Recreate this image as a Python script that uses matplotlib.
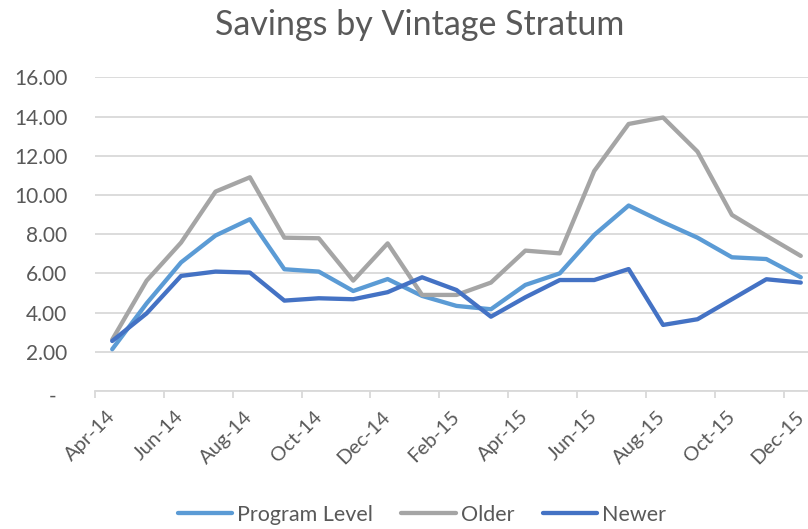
import matplotlib
matplotlib.use("Agg")
import matplotlib.pyplot as plt
import matplotlib.transforms as mtransforms

months = ["Apr-14", "May-14", "Jun-14", "Jul-14", "Aug-14", "Sep-14", "Oct-14",
          "Nov-14", "Dec-14", "Jan-15", "Feb-15", "Mar-15", "Apr-15", "May-15",
          "Jun-15", "Jul-15", "Aug-15", "Sep-15", "Oct-15", "Nov-15", "Dec-15"]
program_level = [2.13, 4.47, 6.56, 7.93, 8.76, 6.21, 6.09, 5.10, 5.71, 4.85, 4.34,
                 4.17, 5.41, 6.00, 7.96, 9.46, 8.61, 7.82, 6.82, 6.73, 5.80]
older = [2.62, 5.63, 7.57, 10.17, 10.90, 7.82, 7.79, 5.63, 7.53, 4.90, 4.90,
         5.53, 7.16, 7.02, 11.22, 13.62, 13.95, 12.21, 8.98, 7.92, 6.89]
newer = [2.55, 3.96, 5.87, 6.09, 6.04, 4.61, 4.73, 4.68, 5.04, 5.80, 5.15,
         3.79, 4.78, 5.66, 5.66, 6.22, 3.37, 3.66, 4.68, 5.70, 5.53]
y_ticks = [0, 2, 4, 6, 8, 10, 12, 14, 16]

FONT = ["Lato", "DejaVu Sans"]
plt.rcParams["font.family"] = FONT
TXT = "#595959"
GRID = "#d9d9d9"

fig = plt.figure(figsize=(8.08, 5.29), dpi=100)
ax = fig.add_axes([95/808, 1 - 391/529, (818 - 95)/808, (391 - 77.3)/529])

x = list(range(len(months)))
kw = dict(lw=3.1, solid_capstyle="round", solid_joinstyle="round")
ax.plot(x, program_level, color="#5B9BD5", label="Program Level", **kw)
ax.plot(x, older, color="#A5A5A5", label="Older", **kw)
ax.plot(x, newer, color="#4472C4", label="Newer", **kw)

ax.set_xlim(-0.5, len(months) - 0.5)
ax.set_ylim(0, 16)

for s in ["top", "right", "left"]:
    ax.spines[s].set_visible(False)
ax.spines["bottom"].set_color(GRID)
ax.spines["bottom"].set_linewidth(1.3)

ax.set_yticks(y_ticks)
ax.set_yticklabels([f"{v:.2f}" if v else "" for v in y_ticks])
ax.tick_params(axis="y", length=0, pad=20, labelsize=15, labelcolor=TXT)
ax.yaxis.grid(True, color=GRID, lw=1.3)
ax.set_axisbelow(True)
trans = mtransforms.blended_transform_factory(ax.transAxes, ax.transData)
ax.text(-42/723, -0.3, "-", transform=trans, ha="center", va="center", fontsize=15, color=TXT)

# tick marks at category edges, labels at category centres
edge_ticks = [i - 0.5 for i in range(0, len(months), 2)]
ax.set_xticks(edge_ticks, minor=True)
ax.tick_params(axis="x", which="minor", length=5.2, width=1.3, color=GRID)
ax.set_xticks(x[::2])
ax.set_xticklabels(months[::2], rotation=45, ha="right", rotation_mode="anchor")
ax.tick_params(axis="x", which="major", length=0, pad=12, labelsize=14.5, labelcolor=TXT)
shift = mtransforms.ScaledTranslation(-6/100, 0, fig.dpi_scale_trans)
for lab in ax.get_xticklabels():
    lab.set_transform(lab.get_transform() + shift)

fig.text(420/808, 1 - 25/529, "Savings by Vintage Stratum", ha="center", va="center",
         fontsize=24.5, color=TXT)

fig.legend(loc="center", bbox_to_anchor=(422/808, 1 - 515/529), ncol=3, frameon=False,
           fontsize=15.5, labelcolor=TXT, handlelength=2.55, handletextpad=0.23,
           columnspacing=1.3)

fig.savefig("out.png", dpi=100)
